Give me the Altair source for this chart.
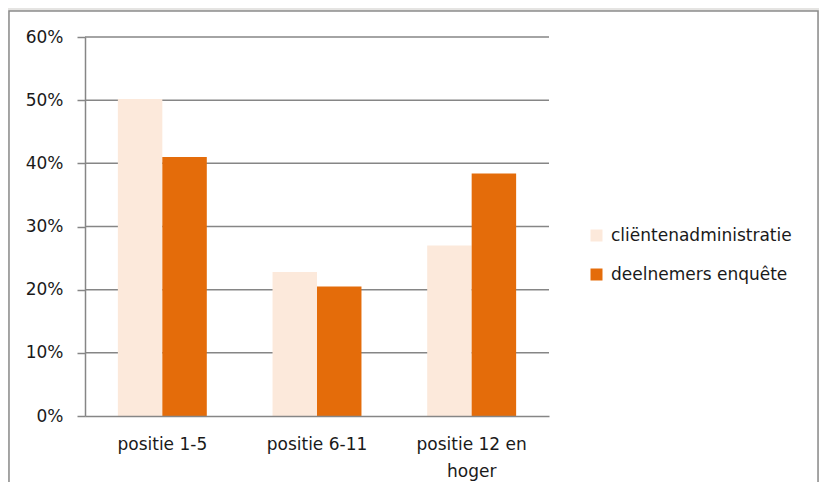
import altair as alt
import pandas as pd

categories = ["positie 1-5", "positie 6-11", "positie 12 en hoger"]
series = ["cliëntenadministratie", "deelnemers enquête"]
clienten = [0.502, 0.228, 0.270]
deelnemers = [0.410, 0.205, 0.384]
y_ticks = [0.0, 0.1, 0.2, 0.3, 0.4, 0.5, 0.6]
colors = ["#FCE9DB", "#E46C0A"]

rows = []
for i, c in enumerate(categories):
    rows.append({"cat": c, "serie": series[0], "val": clienten[i]})
    rows.append({"cat": c, "serie": series[1], "val": deelnemers[i]})
df = pd.DataFrame(rows)

FONT = "DejaVu Sans"
GRAY = "#868686"
TXT = "#1a1a1a"
yscale = alt.Scale(domain=[0, 0.6], nice=False)
yaxis = alt.Axis(values=y_ticks, format=".0%", grid=False, tickSize=8, tickColor=GRAY,
                 tickWidth=1.5, domainColor=GRAY, domainWidth=1.5, labelFont=FONT,
                 labelFontSize=17, labelColor=TXT, labelPadding=14, title=None, zindex=1)
xaxis = alt.Axis(title=None, labelAngle=0, ticks=False, domainColor=GRAY, domainWidth=1.5,
                 labelFont=FONT, labelFontSize=17, labelColor=TXT, labelPadding=20,
                 labelLineHeight=27,
                 labelExpr="datum.value == 'positie 12 en hoger' ? ['positie 12 en', 'hoger'] : datum.label",
                 zindex=1)

frame = alt.Chart(pd.DataFrame({"k": [0]})).mark_rect(
    fill="white", stroke="#8C8C8C", strokeWidth=1.5
).encode(x=alt.value(-76), x2=alt.value(733), y=alt.value(-26), y2=alt.value(470))

grid = alt.Chart(pd.DataFrame({"v": y_ticks[1:]})).mark_rule(
    color=GRAY, strokeWidth=1.5
).encode(y=alt.Y("v:Q", scale=yscale, axis=yaxis))

bars = alt.Chart(df).mark_bar().encode(
    x=alt.X("cat:N", sort=categories,
            scale=alt.Scale(paddingInner=0.425, paddingOuter=0.2125), axis=xaxis),
    xOffset=alt.XOffset("serie:N", sort=series,
                        scale=alt.Scale(paddingInner=0, paddingOuter=0)),
    y=alt.Y("val:Q", scale=yscale, axis=yaxis),
    color=alt.Color("serie:N", sort=series,
                    scale=alt.Scale(domain=series, range=colors),
                    legend=alt.Legend(title=None, orient="none", legendX=503, legendY=190,
                                      symbolType="square", symbolSize=144,
                                      symbolStrokeWidth=0, labelFont=FONT,
                                      labelFontSize=17, labelColor=TXT, labelOffset=6,
                                      labelLimit=300, rowPadding=21, padding=0, zindex=1)),
)

chart = alt.layer(frame, grid, bars).properties(
    width=464, height=379,
    padding={"left": 77, "top": 29, "right": 270, "bottom": 66},
    autosize="none",
    background="#E5E4E2",
).configure_view(strokeWidth=0)

chart.save("out.html", embed_options={"renderer": "svg", "actions": False})
